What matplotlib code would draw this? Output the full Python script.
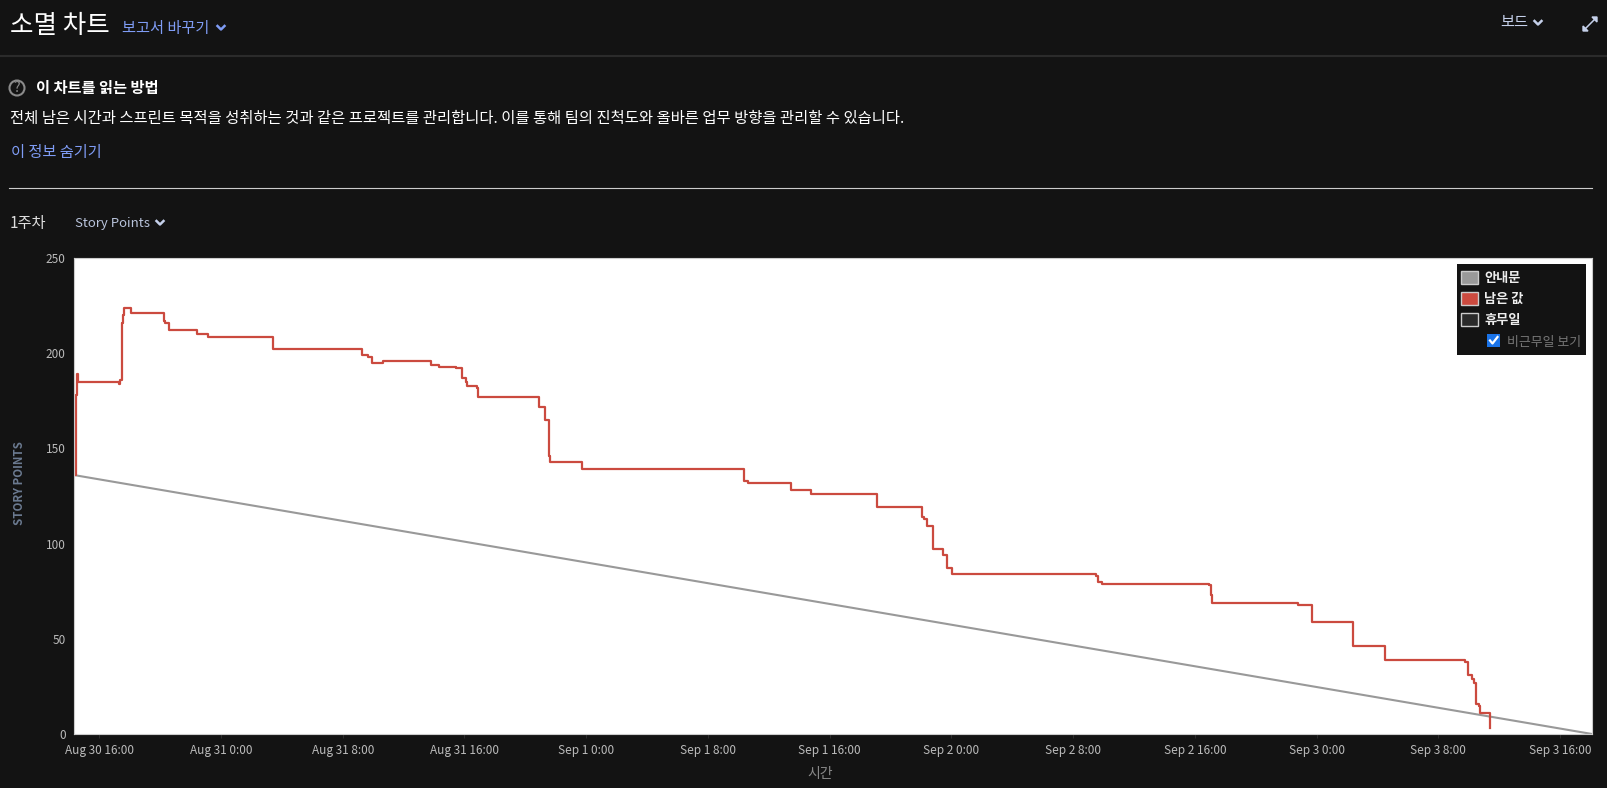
import matplotlib
matplotlib.use('Agg')
import matplotlib.pyplot as plt
from matplotlib.lines import Line2D
from matplotlib.patches import Rectangle, Circle

plt.rcParams['font.family'] = ['Noto Sans CJK KR', 'DejaVu Sans']

W, H = 1608, 788
BG = '#131313'
BLUE = '#7f9cf5'
RED = '#cb4a3f'
GRAY = '#999999'

# hours since Aug 30 16:00
remaining_hours = [-1.60, -1.53, -1.49, -1.40, 1.31, 1.36, 1.51, 1.56, 1.62, 2.08, 4.27, 4.32,
                   4.53, 4.58, 6.42, 7.12, 11.39, 17.28, 17.68, 17.92, 18.62, 21.81, 22.34,
                   23.44, 23.83, 24.09, 24.16, 24.80, 24.86, 28.89, 29.30, 29.55, 29.61, 31.70,
                   42.34, 42.64, 45.49, 46.76, 51.14, 54.07, 54.19, 54.43, 54.76, 55.45, 55.68,
                   56.04, 65.49, 65.64, 65.90, 72.93, 73.06, 73.13, 78.78, 79.70, 82.37, 84.50,
                   89.78, 89.95, 90.24, 90.32, 90.48, 90.67, 90.76, 91.39, 91.40]
remaining_vals = [136, 178, 189, 185, 184, 186, 216, 220, 224, 221, 217, 216,
                  216, 212, 210, 208.5, 202, 199, 198, 195, 196, 194, 193,
                  192, 187, 185, 183, 181.5, 177, 172, 165, 146, 143, 139,
                  133, 132, 128, 126, 119, 114, 113, 109, 97, 94, 87,
                  84, 83, 80, 79, 78, 73, 69, 68, 59, 46, 39,
                  38, 31, 29, 27, 16, 14.5, 11, 3, 3]
guide_hours = [-1.66, 98.1]
guide_vals = [136, 0]

x_ticks = [0, 8, 16, 24, 32, 40, 48, 56, 64, 72, 80, 88, 96]
x_labels = ['Aug 30 16:00', 'Aug 31 0:00', 'Aug 31 8:00', 'Aug 31 16:00', 'Sep 1 0:00', 'Sep 1 8:00',
            'Sep 1 16:00', 'Sep 2 0:00', 'Sep 2 8:00', 'Sep 2 16:00', 'Sep 3 0:00', 'Sep 3 8:00',
            'Sep 3 16:00']
y_ticks = [0, 50, 100, 150, 200, 250]

fig = plt.figure(figsize=(W / 100, H / 100), dpi=100, facecolor=BG)

# chart
left, right, top, bottom = 74, 1592, 258, 734
ax = fig.add_axes([left / W, 1 - bottom / H, (right - left) / W, (bottom - top) / H], facecolor='white')
ax.plot(guide_hours, guide_vals, color=GRAY, lw=1.5, solid_capstyle='butt')
ax.plot(remaining_hours, remaining_vals, color=RED, lw=1.6, drawstyle='steps-post')
ax.set_xlim(-1.66, 98.1)
ax.set_ylim(0, 250)
ax.set_xticks(x_ticks)
ax.set_xticklabels(x_labels)
ax.set_yticks(y_ticks)
ax.tick_params(axis='x', colors='#bbbbbb', labelsize=8.5, length=3, width=0.6, color='#333333', pad=4)
ax.tick_params(axis='y', colors='#bbbbbb', labelsize=8.5, length=0, pad=6)
for s in ax.spines.values():
    s.set_color('#cccccc')

# page chrome in pixel coordinates
ui = fig.add_axes([0, 0, 1, 1], facecolor='none')
ui.set_xlim(0, W)
ui.set_ylim(H, 0)
ui.axis('off')


def label(x, y, s, size=11, color='white', weight='normal', **kw):
    kw.setdefault('va', 'center')
    ui.text(x, y, s, fontsize=size, color=color, fontweight=weight, **kw)


def chevron(x, y, color):
    ui.add_line(Line2D([x - 3.5, x, x + 3.5], [y - 2, y + 1.5, y - 2], color=color, lw=1.8))


label(10, 26, '소멸 차트', size=18.4)
label(122, 28, '보고서 바꾸기', color=BLUE)
chevron(221, 28, BLUE)
label(1500, 22, '보드', color='#c5d0ea')
chevron(1538, 23, '#c5d0ea')
ui.add_line(Line2D([1585, 1595], [29, 19], color='#c5d0ea', lw=1.1))
ui.add_patch(plt.Polygon([(1583, 31), (1583, 26), (1588, 31)], color='#c5d0ea'))
ui.add_patch(plt.Polygon([(1597, 17), (1592, 17), (1597, 22)], color='#c5d0ea'))

ui.add_line(Line2D([0, W], [55.5, 55.5], color='#2b2b2b', lw=1.5))

ui.add_patch(Circle((17, 88), 7.5, fill=False, ec='#8a8a8a', lw=1.5))
label(17, 88, '?', size=10, color='#8a8a8a', ha='center')
label(36, 88, '이 차트를 읽는 방법', weight='bold')
label(10, 118, '전체 남은 시간과 스프린트 목적을 성취하는 것과 같은 프로젝트를 관리합니다. 이를 통해 팀의 진척도와 올바른 업무 방향을 관리할 수 있습니다.',
      size=11.07)
label(11, 152, '이 정보 숨기기', color=BLUE)
ui.add_line(Line2D([9, 1592], [187.5, 187.5], color='#cccccc', lw=0.8))
label(10, 223, '1주차', color='#dddddd')
label(75, 223, 'Story Points', size=9.5, color='#b9c4dc')
chevron(160, 223, '#c5d0ea')

label(20, 483, 'STORY POINTS', size=8.3, color='#6b7a90', weight='bold', rotation=90, ha='center')
label(820, 774, '시간', size=10, color='#888888', ha='center')

# legend
ui.add_patch(Rectangle((1457, 264), 129, 91, fc=BG, ec='none'))
legend_names = ['안내문', '남은 값', '휴무일']
legend_cols = ['#999999', RED, '#2a2a2a']
for name, col, y in zip(legend_names, legend_cols, [270.5, 291.5, 312.5]):
    ui.add_patch(Rectangle((1461.5, y), 17, 13, fc=col, ec='#cccccc', lw=1))
    label(1484, y + 7, name, size=9.5, weight='bold', color='#eeeeee')
ui.add_patch(Rectangle((1487, 334), 13, 13, fc='#1a73e8', ec='none'))
ui.add_line(Line2D([1490, 1492.5, 1497.5], [340.5, 343.5, 337], color='white', lw=1.6))
label(1507, 342.5, '비근무일 보기', size=9.3, color='#777777')

fig.savefig('out.png', dpi=100, facecolor=BG)
